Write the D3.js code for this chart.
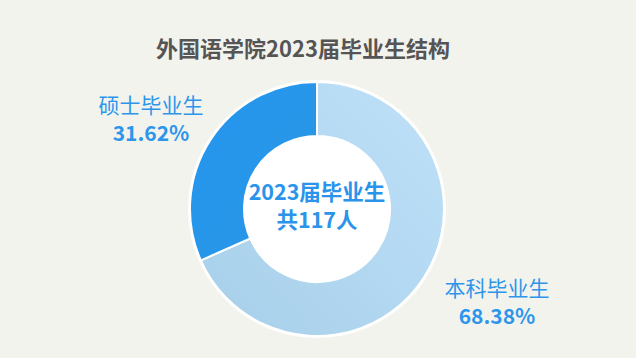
<!DOCTYPE html>
<html><head><meta charset="utf-8">
<script src="https://cdn.jsdelivr.net/npm/d3@7"></script>
<style>
html,body{margin:0;padding:0;background:#f3f3ee;}
svg{display:block;}
text{font-family:"Noto Sans CJK SC","Noto Sans",sans-serif;}
</style></head>
<body>
<svg id="c" width="636" height="358"></svg>
<script>
const title = "外国语学院2023届毕业生结构";
const categories = ["本科毕业生", "硕士毕业生"];
const counts = [80, 37];
const percentLabels = ["68.38%", "31.62%"];
const centerLines = ["2023届毕业生", "共117人"];

const svg = d3.select("#c");
const cx = 317, cy = 209, rOuter = 127, rInner = 73;

const defs = svg.append("defs");
const g1 = defs.append("linearGradient").attr("id","gLight")
  .attr("x1","0%").attr("y1","100%").attr("x2","100%").attr("y2","0%");
g1.append("stop").attr("offset","0%").attr("stop-color","#a7cfe9");
g1.append("stop").attr("offset","100%").attr("stop-color","#bfe1f9");
const g2 = defs.append("linearGradient").attr("id","gDark")
  .attr("x1","0%").attr("y1","0%").attr("x2","100%").attr("y2","100%");
g2.append("stop").attr("offset","0%").attr("stop-color","#2496ee");
g2.append("stop").attr("offset","100%").attr("stop-color","#2a97e6");

svg.append("text").attr("x", 303).attr("y", 57).attr("text-anchor","middle")
  .attr("font-size", 22).attr("font-weight", 700).attr("fill", "#555555").text(title);

const pie = d3.pie().sort(null).value(d => d);
const arcs = pie(counts);
const arc = d3.arc().innerRadius(rInner).outerRadius(rOuter);
const fills = ["url(#gLight)", "url(#gDark)"];

const g = svg.append("g").attr("transform", `translate(${cx},${cy})`);
g.append("circle").attr("r", rOuter + 2).attr("fill", "#ffffff").attr("opacity", 0.9);
g.selectAll("path.slice").data(arcs).join("path").attr("class","slice")
  .attr("d", arc).attr("fill", (d,i) => fills[i])
  .attr("stroke", "#ffffff").attr("stroke-width", 2);
g.append("circle").attr("r", rInner).attr("fill", "#ffffff");

g.append("text").attr("text-anchor","middle").attr("fill","#2a93ea")
  .attr("font-size", 21.5).attr("font-weight", 700).attr("x", 0).attr("y", -9).text(centerLines[0]);
g.append("text").attr("text-anchor","middle").attr("fill","#2a93ea")
  .attr("font-size", 21.5).attr("font-weight", 700).attr("x", 0).attr("y", 19).text(centerLines[1]);

const labelPos = [[497, 296], [151, 113]];
arcs.forEach((d, i) => {
  svg.append("text").attr("text-anchor","middle").attr("fill","#2e96ea")
    .attr("x", labelPos[i][0]).attr("y", labelPos[i][1])
    .attr("font-size", 21).attr("font-weight", 400).text(categories[i]);
  svg.append("text").attr("text-anchor","middle").attr("fill","#2e96ea")
    .attr("x", labelPos[i][0]).attr("y", labelPos[i][1] + 28)
    .attr("font-size", 21).attr("font-weight", 700).text(percentLabels[i]);
});
</script>
</body></html>
